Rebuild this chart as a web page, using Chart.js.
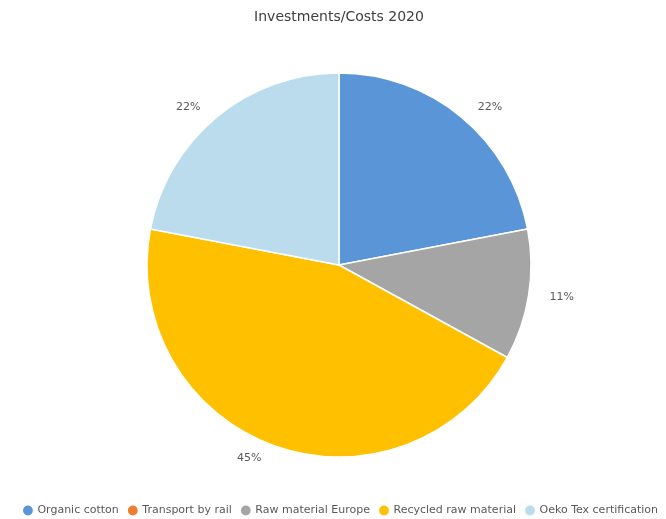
<!DOCTYPE html>
<html>
<head>
<meta charset="utf-8">
<script src="https://cdn.jsdelivr.net/npm/chart.js@4/dist/chart.umd.min.js"></script>
<style>
html,body{margin:0;padding:0;background:#fff;}
#wrap{width:666px;height:519px;position:relative;}
</style>
</head>
<body>
<div id="wrap"><canvas id="c" width="666" height="519"></canvas></div>
<script>
const categories = ["Organic cotton", "Transport by rail", "Raw material Europe", "Recycled raw material", "Oeko Tex certification"];
const values = [22, 0, 11, 45, 22];
const labelsText = ["22%", "", "11%", "45%", "22%"];
const colors = ["#5A96D7", "#ED7D31", "#A5A5A5", "#FFC000", "#BADCEC"];
const titleText = "Investments/Costs 2020";

const placePlugin = {
  id: 'place',
  afterLayout(chart) {
    // pie area: centre (339,265), radius 192
    const ca = chart.chartArea;
    ca.left = 147; ca.right = 531; ca.top = 73; ca.bottom = 457;
    ca.width = ca.right - ca.left; ca.height = ca.bottom - ca.top;
    const lg = chart.legend;
    if (lg) { lg.left += 8; lg.right += 8; lg.top += 7; lg.bottom += 7; }
    const tb = chart.titleBlock;
    if (tb) { tb.left += 6; tb.right += 6; }
  }
};

const outLabels = {
  id: 'outLabels',
  afterDatasetsDraw(chart) {
    const ctx = chart.ctx;
    const meta = chart.getDatasetMeta(0);
    ctx.save();
    ctx.font = '11px "DejaVu Sans"';
    ctx.fillStyle = '#595959';
    ctx.textAlign = 'center';
    ctx.textBaseline = 'middle';
    meta.data.forEach((arc, i) => {
      if (!labelsText[i]) return;
      const p = arc.getProps(['x','y','startAngle','endAngle','outerRadius'], true);
      const mid = (p.startAngle + p.endAngle) / 2;
      const r = p.outerRadius + 13;
      const w = ctx.measureText(labelsText[i]).width;
      const cx = p.x + Math.cos(mid) * r + Math.sign(Math.cos(mid)) * (w / 2 + 8);
      const cy = p.y + Math.sin(mid) * r;
      ctx.fillText(labelsText[i], cx, cy);
    });
    ctx.restore();
  }
};

new Chart(document.getElementById('c'), {
  type: 'pie',
  data: {
    labels: categories,
    datasets: [{
      data: values,
      backgroundColor: colors,
      borderColor: '#ffffff',
      borderWidth: 1.5,
      radius: 192
    }]
  },
  options: {
    responsive: false,
    animation: false,
    plugins: {
      title: {
        display: true,
        text: titleText,
        color: '#404040',
        font: { family: '"DejaVu Sans"', size: 14, weight: 'normal' },
        padding: { top: 9, bottom: 8 }
      },
      legend: {
        position: 'bottom',
        labels: {
          usePointStyle: true,
          pointStyle: 'circle',
          boxWidth: 8,
          boxHeight: 8,
          padding: 10,
          color: '#595959',
          font: { family: '"DejaVu Sans"', size: 11 }
        }
      },
      tooltip: { enabled: false }
    }
  },
  plugins: [placePlugin, outLabels]
});
</script>
</body>
</html>
